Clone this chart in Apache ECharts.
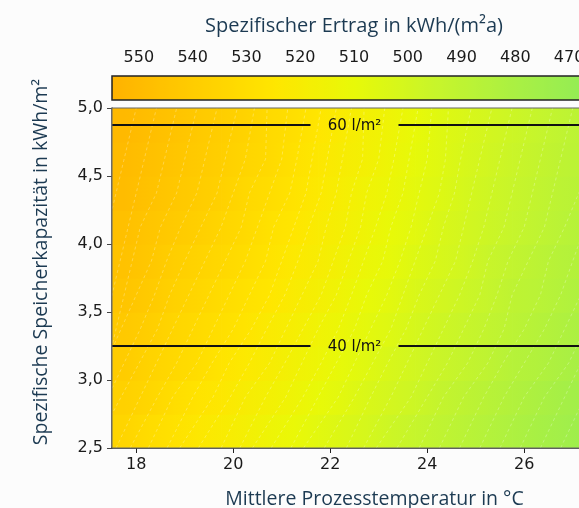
<!DOCTYPE html>
<html>
<head>
<meta charset="utf-8">
<script src="https://cdn.jsdelivr.net/npm/echarts@6/dist/echarts.min.js"></script>
<style>
  html, body { margin: 0; padding: 0; background: #fcfcfc; }
  #main { width: 579px; height: 508px; }
</style>
</head>
<body>
<div id="main"></div>
<script>
// Zellmitten: Temperatur in °C
const tempCenters = [17.75, 18.25, 18.75, 19.25, 19.75, 20.25, 20.75, 21.25, 21.75, 22.25,
  22.75, 23.25, 23.75, 24.25, 24.75, 25.25, 25.75, 26.25, 26.75, 27.25];
// Zellmitten: Speicherkapazität in kWh/m²
const capCenters = [2.625, 2.875, 3.125, 3.375, 3.625, 3.875, 4.125, 4.375, 4.625, 4.875];

// spezifischer Ertrag in kWh/(m²a), eine Zeile je Speicherkapazität
const yield2625 = [535, 531, 528, 524, 521, 518, 514, 511, 507, 504, 501, 497, 494, 491, 488, 485, 482, 479, 476, 473];
const yield2875 = [537, 534, 530, 527, 524, 520, 517, 514, 510, 507, 503, 500, 497, 493, 490, 487, 484, 481, 478, 475];
const yield3125 = [540, 536, 533, 530, 526, 523, 520, 516, 513, 509, 506, 502, 499, 496, 493, 490, 486, 484, 481, 478];
const yield3375 = [542, 539, 535, 532, 529, 526, 522, 519, 515, 512, 508, 505, 501, 498, 495, 492, 489, 486, 483, 480];
const yield3625 = [544, 541, 537, 534, 531, 528, 525, 521, 518, 514, 510, 507, 503, 500, 497, 494, 490, 488, 485, 482];
const yield3875 = [546, 543, 539, 536, 533, 530, 527, 523, 520, 516, 512, 509, 505, 502, 499, 495, 492, 489, 486, 484];
const yield4125 = [547, 544, 541, 538, 535, 532, 528, 525, 521, 518, 514, 510, 507, 503, 500, 497, 494, 491, 488, 485];
const yield4375 = [549, 546, 543, 540, 537, 533, 530, 527, 523, 519, 515, 512, 508, 505, 501, 498, 495, 492, 489, 487];
const yield4625 = [550, 547, 544, 541, 538, 535, 532, 528, 524, 520, 517, 513, 509, 506, 502, 499, 496, 493, 490, 488];
const yield4875 = [551, 548, 545, 542, 539, 536, 532, 529, 525, 521, 517, 514, 510, 506, 503, 500, 497, 494, 491, 488];
const yieldRows = [yield2625, yield2875, yield3125, yield3375, yield3625,
  yield3875, yield4125, yield4375, yield4625, yield4875];

const tempTicks = [18, 20, 22, 24, 26];
const yieldTicks = [550, 540, 530, 520, 510, 500, 490, 480, 470];
const yieldColors = ['#8fec58', '#aaf043', '#c8f52a', '#e8f908', '#ffe600', '#ffcc00', '#ffb200'];
const yieldMin = 465, yieldMax = 555;
const contourStep = 2.5;

const storageLines = [
  { name: '60 l/m²', cap: 4.875 },
  { name: '40 l/m²', cap: 3.25 }
];
const labelTemp = 22.5;

const tempMin = 17.5, tempMax = 27.5;
const capMin = 2.5, capMax = 5.0;
const cellH = capCenters[1] - capCenters[0];

// eine Zelle je Messpunkt; gezeichnet bis zum rechten Nachbarn
const cells = [];
yieldRows.forEach((row, j) => {
  row.forEach((v, i) => cells.push([tempCenters[i], capCenters[j], v, i, j]));
});

const tickFont = 'DejaVu Sans';
const titleFont = 'Open Sans';
const titleColor = '#1c3a52';

function yieldColor(v) {
  return echarts.color.lerp((v - yieldMin) / (yieldMax - yieldMin), yieldColors);
}

function renderCell(params, api) {
  const i = api.value(3), j = api.value(4);
  const row = yieldRows[j];
  const t0 = i === 0 ? tempMin : tempCenters[i];
  const t1 = i === tempCenters.length - 1 ? tempMax : tempCenters[i + 1];
  const c = capCenters[j];
  const pA = api.coord([t0, c + cellH / 2]);
  const pB = api.coord([t1, c - cellH / 2]);
  let fill;
  if (i === tempCenters.length - 1) {
    fill = yieldColor(row[i]);
  } else {
    // Übergang von dieser Zelle zur nächsten
    const startOff = i === 0 ? (tempCenters[0] - tempMin) / (tempCenters[1] - tempMin) : 0;
    fill = new echarts.graphic.LinearGradient(0, 0, 1, 0, [
      { offset: 0, color: yieldColor(row[i]) },
      { offset: startOff, color: yieldColor(row[i]) },
      { offset: 1, color: yieldColor(row[i + 1]) }
    ]);
  }
  return {
    type: 'rect',
    shape: { x: pA[0], y: pA[1], width: pB[0] - pA[0] + 0.8, height: pB[1] - pA[1] + 0.8 },
    style: { fill: fill }
  };
}

// Isolinien des Ertrags aus dem Raster
function renderContours(params, api) {
  const children = [];
  for (let L = Math.ceil(yieldMin / contourStep) * contourStep; L <= yieldMax; L += contourStep) {
    const pts = [];
    yieldRows.forEach((row, j) => {
      for (let i = 0; i < row.length - 1; i++) {
        const a = row[i], b = row[i + 1];
        if ((a - L) * (b - L) <= 0 && a !== b) {
          const t = tempCenters[i] + (L - a) / (b - a) * (tempCenters[i + 1] - tempCenters[i]);
          pts.push([t, capCenters[j]]);
          break;
        }
      }
    });
    if (pts.length < 2) continue;
    const f = pts[0], s = pts[1];
    const l = pts[pts.length - 1], k = pts[pts.length - 2];
    const first = [f[0] - (s[0] - f[0]) / (s[1] - f[1]) * (f[1] - capMin), capMin];
    const last = [l[0] + (l[0] - k[0]) / (l[1] - k[1]) * (capMax - l[1]), capMax];
    const all = [first].concat(pts, [last]).map(p => api.coord(p));
    children.push({
      type: 'polyline',
      shape: { points: all },
      style: { stroke: 'rgba(255,255,255,0.35)', fill: null, lineWidth: 0.8, lineDash: [3, 3] }
    });
  }
  return { type: 'group', children: children };
}

function renderStorageLine(params, api) {
  const cs = params.coordSys;
  const p = api.coord([api.value(0), api.value(1)]);
  const gap = 44;
  const seg = (x1, x2) => ({
    type: 'line',
    shape: { x1: x1, y1: p[1], x2: x2, y2: p[1] },
    style: { stroke: '#111', lineWidth: 2 }
  });
  return {
    type: 'group',
    children: [
      seg(cs.x, p[0] - gap),
      seg(p[0] + gap, cs.x + cs.width),
      {
        type: 'text',
        style: {
          text: storageLines[params.dataIndex].name,
          x: p[0], y: p[1] + 1, align: 'center', verticalAlign: 'middle',
          fontSize: 15, fontFamily: tickFont, fill: '#111'
        }
      }
    ]
  };
}

const chart = echarts.init(document.getElementById('main'));

chart.setOption({
  backgroundColor: '#fcfcfc',
  animation: false,
  grid: [
    { left: 112, top: 108, height: 340, width: 485, show: true, z: 10, outerBoundsMode: 'none',
      backgroundColor: 'transparent', borderColor: '#666', borderWidth: 1 },
    { left: 112, top: 76, height: 24, width: 484, show: true, z: 10, outerBoundsMode: 'none',
      backgroundColor: 'transparent', borderColor: '#222', borderWidth: 1.5 }
  ],
  xAxis: [
    {
      type: 'value', gridIndex: 0, min: tempMin, max: tempMax, position: 'bottom',
      axisLine: { show: true, onZero: false, lineStyle: { color: '#222', width: 1.5 } },
      axisTick: { show: true, length: 5, customValues: tempTicks, lineStyle: { color: '#222' } },
      axisLabel: { customValues: tempTicks, fontSize: 16, fontFamily: tickFont, color: '#1a1a1a', margin: 9 },
      splitLine: { show: false },
      name: 'Mittlere Prozesstemperatur in °C',
      nameLocation: 'middle', nameGap: 41,
      nameTextStyle: { fontSize: 19.5, fontFamily: titleFont, color: titleColor, padding: [0, 0, 0, 40] }
    },
    {
      type: 'value', gridIndex: 1, min: yieldMin, max: yieldMax, position: 'top', inverse: true,
      axisLine: { show: false },
      axisTick: { show: true, length: 5, customValues: yieldTicks, lineStyle: { color: '#222' } },
      axisLabel: { customValues: yieldTicks, fontSize: 16, fontFamily: tickFont, color: '#1a1a1a', margin: 10 },
      splitLine: { show: false },
      name: 'Spezifischer Ertrag in kWh/(m²a)',
      nameLocation: 'middle', nameGap: 40,
      nameTextStyle: { fontSize: 20, fontFamily: titleFont, color: titleColor }
    }
  ],
  yAxis: [
    {
      type: 'value', gridIndex: 0, min: capMin, max: capMax, interval: 0.5,
      axisLine: { show: true, onZero: false, lineStyle: { color: '#444', width: 1.5 } },
      axisTick: { show: true, length: 5, lineStyle: { color: '#444' } },
      axisLabel: {
        fontSize: 16, fontFamily: tickFont, color: '#1a1a1a', margin: 9,
        formatter: v => v.toFixed(1).replace('.', ',')
      },
      splitLine: { show: false },
      name: 'Spezifische Speicherkapazität in kWh/m²',
      nameLocation: 'middle', nameGap: 61,
      nameTextStyle: { fontSize: 19.5, fontFamily: titleFont, color: titleColor, padding: [0, 0, 0, 32] }
    },
    { type: 'value', gridIndex: 1, min: 0, max: 1, show: false }
  ],
  visualMap: {
    type: 'continuous', seriesIndex: 0, dimension: 2, min: yieldMin, max: yieldMax,
    orient: 'horizontal', inverse: true, left: 112, top: 76, itemWidth: 24, itemHeight: 484,
    padding: 0, calculable: false, hoverLink: false, showLabel: false, text: null,
    inRange: { color: yieldColors }
  },
  series: [
    {
      type: 'custom', name: 'Ertrag', xAxisIndex: 0, yAxisIndex: 0,
      renderItem: renderCell, data: cells, clip: true, silent: true,
      encode: { x: 0, y: 1 }
    },
    {
      type: 'custom', name: 'Isolinien', xAxisIndex: 0, yAxisIndex: 0, z: 3,
      renderItem: renderContours, clip: true, silent: true,
      data: [[tempMin, capMin]], encode: { x: 0, y: 1 }
    },
    {
      type: 'custom', name: 'Speicher', xAxisIndex: 0, yAxisIndex: 0, z: 5,
      renderItem: renderStorageLine, clip: true, silent: true,
      data: storageLines.map(l => [labelTemp, l.cap]),
      encode: { x: 0, y: 1 }
    }
  ]
});
</script>
</body>
</html>
